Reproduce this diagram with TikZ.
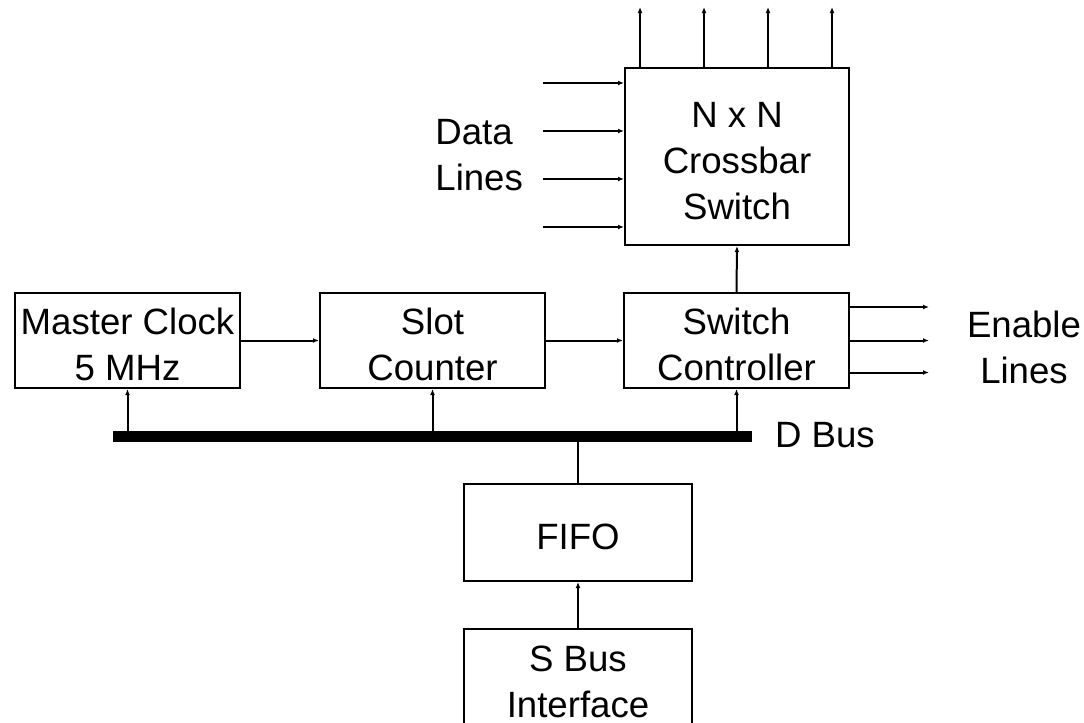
\documentclass[tikz,border=0pt]{standalone}
\usepackage{fontspec}
\setmainfont{Liberation Sans}
\usetikzlibrary{arrows.meta,calc}
\begin{document}
\begin{tikzpicture}[x=0.5pt,y=-0.5pt,
  every node/.style={font=\fontsize{18.3}{23}\selectfont, align=center},
  blockbox/.style={draw, line width=1pt, inner sep=0pt,
                   minimum width=112.5pt, minimum height=47.5pt},
  caption/.style={yshift=-2.2pt},
  wire/.style={line width=1pt, -{Latex[length=3pt,width=2.4pt]}},
  plainwire/.style={line width=1pt}]
\useasboundingbox (0,0) rectangle (1084,723);

% function blocks (captions sit slightly below the box centre)
\node[blockbox, label={[name=mc-t, caption]center:Master Clock\\5 MHz}] (mc) at (127.5,340.5) {};
\node[blockbox, label={[name=slot-t, caption]center:Slot\\Counter}] (slot) at (432.5,340.5) {};
\node[blockbox, label={[name=sc-t, caption]center:Switch\\Controller}] (sc) at (736.5,340.5) {};
\node[blockbox, minimum width=112pt, minimum height=88.5pt,
      label={[name=xbar-t, caption]center:N x N\\Crossbar\\Switch}] (xbar) at (737,156.5) {};
\node[blockbox, minimum width=114pt, minimum height=48.5pt,
      label={[name=fifo-t, caption]center:FIFO}] (fifo) at (578,532.5) {};
\node[blockbox, minimum width=114pt, minimum height=48pt,
      label={[name=sbus-t, caption]center:S Bus\\Interface}] (sbus) at (578,677) {};

% D bus bar
\node[fill=black, inner sep=0pt, minimum width=319.5pt, minimum height=5.5pt] (dbus) at (432.5,436.5) {};
\node[anchor=base west] (dbuslbl) at (768,447) {D Bus};

% labels
\node[anchor=base west, align=left, inner sep=0pt] (datalbl) at (435,190) {Data\\Lines};
\node[anchor=base] (enlbl) at (1024,383) {Enable\\Lines};

% clock chain
\draw[wire] (mc.east) -- (slot.west);
\draw[wire] (slot.east) -- (sc.west);
\draw[wire] (sc.north) -- (xbar.south);

% bus taps
\draw[wire] (dbus.north -| mc.south) -- (mc.south);
\draw[wire] (dbus.north -| slot.south) -- (slot.south);
\draw[wire] (dbus.north -| sc.south) -- (sc.south);
\draw[plainwire] (dbus.south -| fifo.north) -- (fifo.north);
\draw[wire] (sbus.north) -- (fifo.south);

% crossbar outputs
\foreach \i/\dx in {1/16,2/80,3/144,4/208}{
  \coordinate (out\i) at ($(xbar.north west)+(\dx,-60)$);
  \draw[wire] ($(xbar.north west)+(\dx,0)$) -- (out\i);
}
% data inputs
\foreach \i/\dy in {1/16,2/64,3/112,4/160}{
  \coordinate (in\i) at ($(xbar.north west)+(-81,\dy)$);
  \draw[wire] (in\i) -- ($(xbar.north west)+(0,\dy)$);
}
% enable outputs
\foreach \i/\dy in {1/-33.5,2/0,3/32}{
  \coordinate (en\i) at ($(sc.east)+(79,\dy)$);
  \draw[wire] ($(sc.east)+(0,\dy)$) -- (en\i);
}
\end{tikzpicture}
\end{document}
